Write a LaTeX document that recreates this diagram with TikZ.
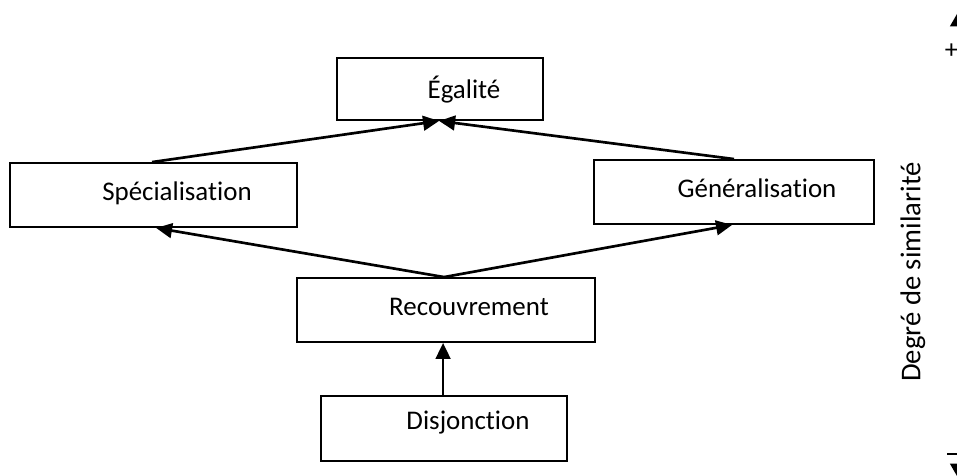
\documentclass[tikz,border=0pt]{standalone}
\usepackage{fontspec}
\setmainfont{Carlito}[Ligatures=NoCommon]
\usetikzlibrary{arrows.meta,calc}
\begin{document}
\begin{tikzpicture}[x=0.75pt,y=-0.75pt,
  box/.style={draw=black,line width=1.4pt,rectangle,inner sep=0pt},
  lbl/.style={inner sep=0pt,font=\fontsize{20.2}{24}\selectfont},
  conn/.style={draw=black,line width=2pt},
  arr/.style={conn,-{Triangle[length=12pt,width=11pt]}}]
\useasboundingbox (0,0) rectangle (957,475);
% boxes
\node[box,minimum width=206*0.75pt,minimum height=62*0.75pt] (ega) at (440,89) {};
\node[box,minimum width=287*0.75pt,minimum height=64*0.75pt] (spe) at (153.5,195) {};
\node[box,minimum width=280*0.75pt,minimum height=64*0.75pt] (gen) at (734,192) {};
\node[box,minimum width=298*0.75pt,minimum height=64*0.75pt] (rec) at (446,310) {};
\node[box,minimum width=246*0.75pt,minimum height=65*0.75pt] (dis) at (444,428.5) {};
% labels
\node[lbl] (tega) at (464,90) {Égalité};
\node[lbl] (tspe) at (177,193) {Spécialisation};
\node[lbl] (tgen) at (757,188) {Généralisation};
\node[lbl] (trec) at (469,307) {Recouvrement};
\node[lbl] (tdis) at (468,423) {Disjonction};
% connector points
\coordinate (egab) at ($(ega.south west)+(103,0)$);
\coordinate (spet) at ($(spe.north west)+(143,0)$);
\coordinate (spebt) at ($(spe.south west)+(147,0)$);
\coordinate (gent) at ($(gen.north west)+(141,0)$);
\coordinate (genbt) at ($(gen.south west)+(139,0)$);
\coordinate (rect) at ($(rec.north west)+(148,0)$);
\coordinate (recb) at ($(rec.south west)+(147,0)$);
\coordinate (dist) at ($(dis.north west)+(123,0)$);
% connectors
\draw[arr] (spet) -- (egab);
\draw[arr] (gent) -- (egab);
\draw[arr] (rect) -- (spebt);
\draw[arr] (rect) -- (genbt);
\draw[arr] (dist) -- (recb);
% axis
\coordinate (axtop) at (957.5,13);
\coordinate (axbot) at (957.5,477);
\draw[line width=1.5pt,{Triangle[length=10pt,width=11pt]}-{Triangle[length=10pt,width=11pt]}] (axtop) -- (axbot);
\node[inner sep=0pt,font=\fontsize{20}{22}\selectfont] (plus) at (951.5,51) {+};
\draw[line width=1.3pt] (947,454) -- (958,454);
\node[inner sep=0pt,rotate=90,font=\fontsize{21.5}{24}\selectfont] (deg) at (913,272) {Degré de similarité};
\end{tikzpicture}
\end{document}
